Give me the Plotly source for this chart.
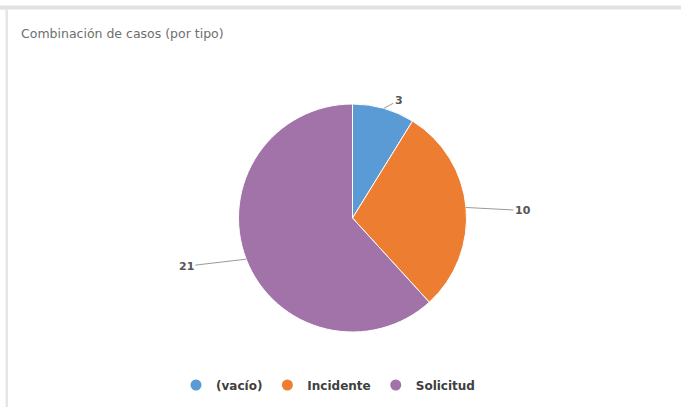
import math
import plotly.graph_objects as go

# ---- data ----
categories = ["(vacío)", "Incidente", "Solicitud"]
values = [3, 10, 21]
colors = ["#5b9bd5", "#ed7d31", "#a173a9"]
title_text = "Combinación de casos (por tipo)"

W, H = 681, 407
# pie geometry (pixels)
cx, cy, R = 352.5, 218.0, 114.0
# label offsets (pixels) from slice edge to text
label_offsets = [(15, -8), (57, 3), (-60, 7)]


def px_x(p):
    return p / W


def px_y(p):
    return 1 - p / H


fig = go.Figure()

fig.add_trace(go.Pie(
    labels=categories,
    values=values,
    marker=dict(colors=colors, line=dict(color="white", width=1)),
    sort=False,
    direction="clockwise",
    rotation=0,
    textinfo="none",
    showlegend=False,
    hoverinfo="label+value",
    domain=dict(x=[px_x(cx - 150), px_x(cx + 150)],
                y=[px_y(cy + R), px_y(cy - R)]),
))

# legend entries with circular markers
for name, col in zip(categories, colors):
    fig.add_trace(go.Scatter(
        x=[None], y=[None], mode="markers", name=name,
        marker=dict(color=col, size=11, symbol="circle"),
        showlegend=True,
    ))

# value labels with leader lines, positioned from slice mid-angles
total = sum(values)
cum = 0
annotations = []
for v, (ox, oy) in zip(values, label_offsets):
    mid = (cum + v / 2) / total * 2 * math.pi
    cum += v
    tx = cx + R * math.sin(mid)
    ty = cy - R * math.cos(mid)
    annotations.append(dict(
        x=px_x(tx), y=px_y(ty), xref="paper", yref="paper",
        text=str(v), showarrow=True, arrowhead=0, arrowwidth=1,
        arrowcolor="#9a9a9a", ax=ox, ay=oy, standoff=0,
        font=dict(family="DejaVu Sans", size=11, color="#555555", weight="bold"),
    ))

annotations.append(dict(
    x=px_x(19), y=px_y(33), xref="paper", yref="paper",
    xanchor="left", yanchor="middle", showarrow=False,
    text=title_text,
    font=dict(family="DejaVu Sans", size=12.5, color="#6e6e6e"),
))

shapes = [
    dict(type="rect", xref="paper", yref="paper",
         x0=0, x1=1, y0=px_y(9.5), y1=px_y(5.5),
         fillcolor="#e2e2e2", line=dict(width=0), layer="below"),
    dict(type="rect", xref="paper", yref="paper",
         x0=px_x(5.5), x1=px_x(8), y0=0, y1=px_y(9.5),
         fillcolor="#e6e6e6", line=dict(width=0), layer="below"),
]

fig.update_layout(
    width=W, height=H,
    margin=dict(l=0, r=0, t=0, b=0),
    paper_bgcolor="white", plot_bgcolor="white",
    xaxis=dict(visible=False), yaxis=dict(visible=False),
    annotations=annotations,
    shapes=shapes,
    legend=dict(orientation="h", x=px_x(328), xanchor="center",
                y=px_y(385), yanchor="middle",
                font=dict(family="DejaVu Sans", size=12, color="#404040", weight="bold"),
                itemclick=False, itemdoubleclick=False),
)

fig.write_html("out.html",
               config={"displayModeBar": False},
               post_script="document.body.style.margin='0';document.body.style.overflow='hidden';")
